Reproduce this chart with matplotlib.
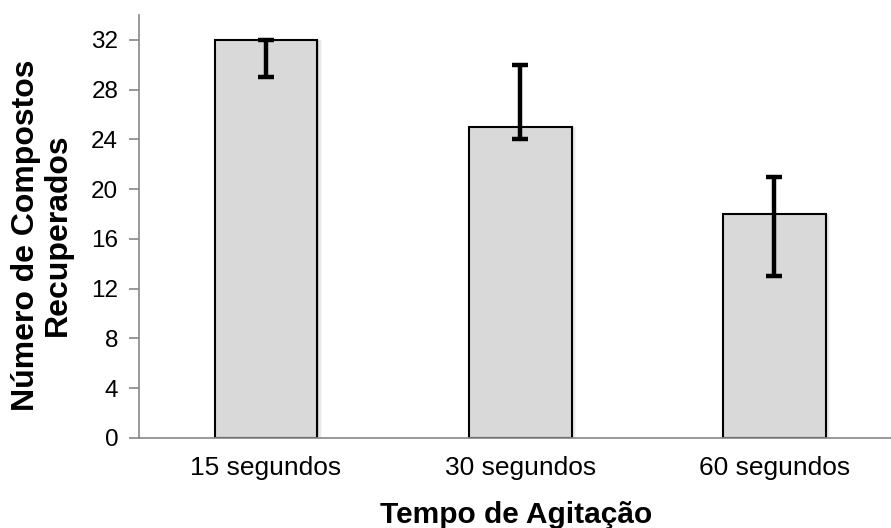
import matplotlib
matplotlib.use("Agg")
import matplotlib.pyplot as plt
import numpy as np

plt.rcParams['font.family'] = ['Liberation Sans', 'DejaVu Sans']

categories = ["15 segundos", "30 segundos", "60 segundos"]
values = [32, 25, 18]
err_low = [3, 1, 5]
err_high = [0, 5, 3]

fig = plt.figure(figsize=(8.91, 5.28), dpi=100)
ax = fig.add_axes([139/891, 1 - 438/528, 1 - 139/891, (438 - 15)/528])

x = np.arange(len(categories))
bar_w = 0.405

# soft drop shadow behind each bar
for k, a in enumerate([0.10, 0.06, 0.03]):
    off = 0.006 * (k + 1)
    ax.bar(x + off, values, width=bar_w, color="black", alpha=a,
           linewidth=0, zorder=1)

ax.bar(x, values, width=bar_w, color="#d9d9d9", edgecolor="black",
       linewidth=1.5, zorder=2)
ax.errorbar(x, values, yerr=[err_low, err_high], fmt="none", ecolor="black",
            elinewidth=3.2, capsize=6, capthick=3.2, zorder=3)

ax.set_xlim(-0.5, 2.46)
ax.set_ylim(0, 34)
ax.set_yticks(np.arange(0, 33, 4))
ax.set_xticks(x)
ax.set_xticklabels(categories, fontsize=19)
ax.tick_params(axis='y', labelsize=17.5, length=7, width=1.2, color="#868686", pad=8)
ax.tick_params(axis='x', length=0, pad=13)

for s in ["top", "right"]:
    ax.spines[s].set_visible(False)
for s in ["left", "bottom"]:
    ax.spines[s].set_color("#868686")
    ax.spines[s].set_linewidth(1.2)

ax.set_ylabel("Número de Compostos\nRecuperados", fontsize=23,
              fontweight="bold", linespacing=1.1)
ax.yaxis.set_label_coords(-0.088, 0.48)
ax.set_xlabel("Tempo de Agitação", fontsize=21.5, fontweight="bold")
ax.xaxis.set_label_coords(0.501, -0.2)
ax.xaxis.label.set_va("baseline")

fig.savefig("out.png", dpi=100)
